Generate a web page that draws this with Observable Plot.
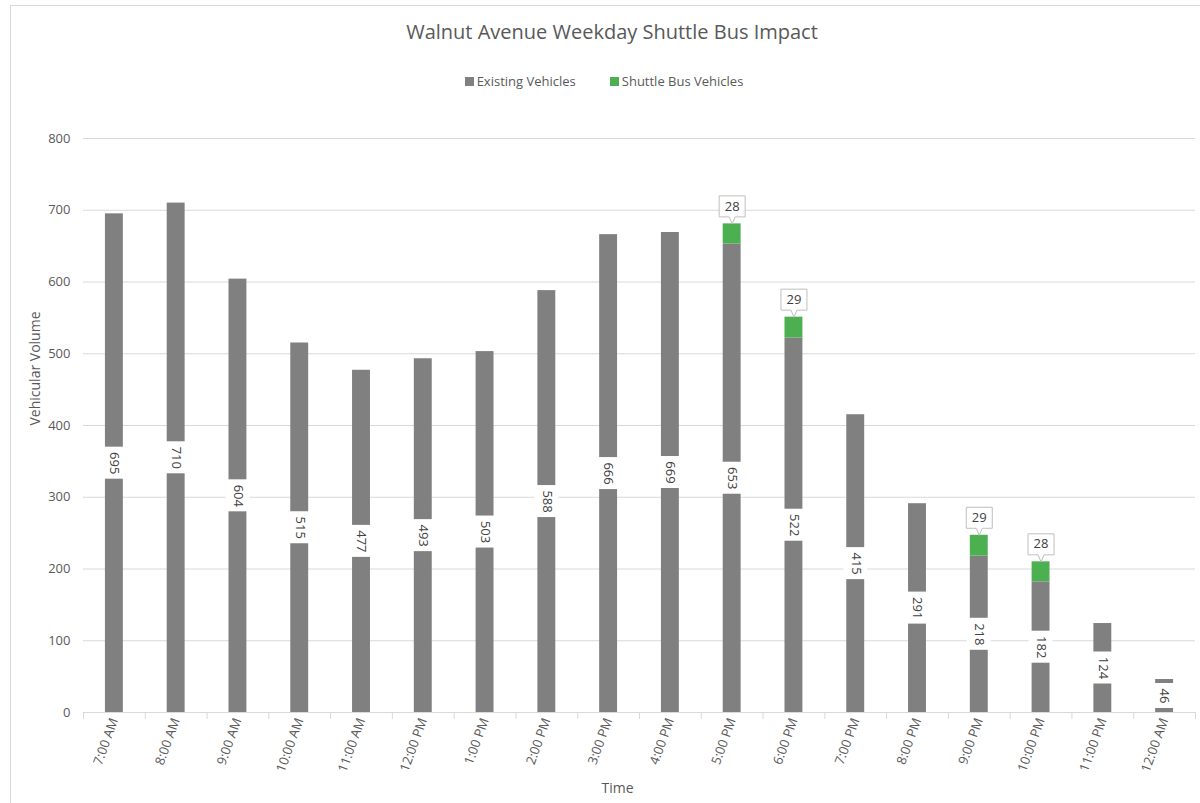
<!DOCTYPE html>
<html>
<head>
<meta charset="utf-8">
<script src="https://cdn.jsdelivr.net/npm/d3@7"></script>
<script src="https://cdn.jsdelivr.net/npm/@observablehq/plot@0.6"></script>
<style>
  body { margin: 0; background: #fff; font-family: "Open Sans", sans-serif; }
  #wrap { position: relative; width: 1200px; height: 803px; overflow: hidden; }
  #frame { position: absolute; left: 10px; top: 5px; width: 1300px; height: 900px; border-left: 1px solid #d9d9d9; border-top: 1px solid #d9d9d9; }
  #title { position: absolute; left: 0; width: 1224px; top: 18px; text-align: center; font-size: 20px; color: #595959; }
  #legend { position: absolute; left: 0; width: 1208px; top: 72px; text-align: center; font-size: 13px; color: #595959; }
  #legend span.item { display: inline-block; margin: 0 17px; }
  #legend span.sw { display: inline-block; width: 9px; height: 9px; margin-right: 3px; vertical-align: 0px; }
  #chart { position: absolute; left: 0; top: 100px; }
</style>
</head>
<body>
<div id="wrap">
  <div id="frame"></div>
  <div id="title">Walnut Avenue Weekday Shuttle Bus Impact</div>
  <div id="legend"></div>
  <div id="chart"></div>
</div>
<script>
const times = ["7:00 AM","8:00 AM","9:00 AM","10:00 AM","11:00 AM","12:00 PM","1:00 PM","2:00 PM","3:00 PM","4:00 PM","5:00 PM","6:00 PM","7:00 PM","8:00 PM","9:00 PM","10:00 PM","11:00 PM","12:00 AM"];
const existing = [695,710,604,515,477,493,503,588,666,669,653,522,415,291,218,182,124,46];
const shuttle = [0,0,0,0,0,0,0,0,0,0,28,29,0,0,29,28,0,0];
const seriesNames = ["Existing Vehicles","Shuttle Bus Vehicles"];
const seriesColors = ["#808080","#4caf50"];
const yTicks = [0,100,200,300,400,500,600,700,800];
const yLabel = "Vehicular Volume";
const xLabel = "Time";

// legend
const legend = document.getElementById("legend");
seriesNames.forEach((s, i) => {
  const it = document.createElement("span");
  it.className = "item";
  it.innerHTML = `<span class="sw" style="background:${seriesColors[i]}"></span>${s}`;
  legend.appendChild(it);
});

const W = 1200, H = 703, mL = 83, mR = 5, mT = 38, mB = 91;
const step = (W - mL - mR) / times.length;
const pxPerUnit = (H - mT - mB) / 800;

const rows = times.flatMap((t, i) => [
  {time: t, series: seriesNames[0], value: existing[i]},
  {time: t, series: seriesNames[1], value: shuttle[i]}
]);
const labelRows = times.map((t, i) => ({time: t, value: existing[i], txt: String(existing[i])}));
const calloutRows = times.map((t, i) => ({time: t, total: existing[i] + shuttle[i], v: shuttle[i]})).filter(d => d.v > 0);

const callout = {
  draw(ctx) {
    ctx.moveTo(0, 0);
    ctx.lineTo(3, -7);
    ctx.lineTo(13, -7);
    ctx.lineTo(13, -28);
    ctx.lineTo(-13, -28);
    ctx.lineTo(-13, -7);
    ctx.lineTo(-3, -7);
    ctx.closePath();
  }
};

// half height of the white label box, in value units, from the label's length
const boxHalf = d => (d.txt.length * 3.5 + 5.5) / pxPerUnit;

const plot = Plot.plot({
  width: W, height: H,
  marginLeft: mL, marginRight: mR, marginTop: mT, marginBottom: mB,
  style: {fontFamily: "'Open Sans', sans-serif", fontSize: "13px", color: "#595959", background: "transparent", overflow: "visible"},
  x: {domain: times, paddingInner: 0.71, paddingOuter: 0.355, round: false, label: null},
  y: {domain: [0, 800], label: null},
  color: {domain: seriesNames, range: seriesColors},
  marks: [
    Plot.gridY(yTicks, {stroke: "#d9d9d9", strokeOpacity: 1}),
    Plot.ruleY([0], {stroke: "#d9d9d9"}),
    Plot.ruleX(times, {x: d => d, y1: 0, y2: -7 / pxPerUnit, dx: -step / 2, stroke: "#d9d9d9"}),
    Plot.ruleX(times.slice(-1), {x: d => d, y1: 0, y2: -7 / pxPerUnit, dx: step / 2, stroke: "#d9d9d9"}),
    Plot.axisY(yTicks, {tickSize: 0, tickPadding: 13, label: null, fontSize: 13}),
    Plot.axisX({tickSize: 0, tickRotate: -70, tickPadding: 6, label: null, fontSize: 13}),
    Plot.barY(rows, {x: "time", y: "value", fill: "series"}),
    Plot.barY(labelRows, {x: "time", y1: d => d.value / 2 - boxHalf(d), y2: d => d.value / 2 + boxHalf(d), fill: "white", insetLeft: -3, insetRight: -3}),
    Plot.text(labelRows, {x: "time", y: d => d.value / 2, text: "txt", rotate: 90, fill: "#404040", fontSize: 13}),
    Plot.dot(calloutRows, {x: "time", y: "total", symbol: callout, fill: "white", stroke: "#bfbfbf", strokeWidth: 1, r: 5}),
    Plot.text(calloutRows, {x: "time", y: "total", text: d => String(d.v), dy: -17.5, fill: "#404040", fontSize: 13}),
    Plot.text([yLabel], {frameAnchor: "left", dx: -48, rotate: -90, fontSize: 14, fill: "#595959"}),
    Plot.text([xLabel], {frameAnchor: "bottom", dx: -22, dy: 80, fontSize: 14, fill: "#595959"})
  ]
});
document.getElementById("chart").appendChild(plot);
</script>
</body>
</html>
